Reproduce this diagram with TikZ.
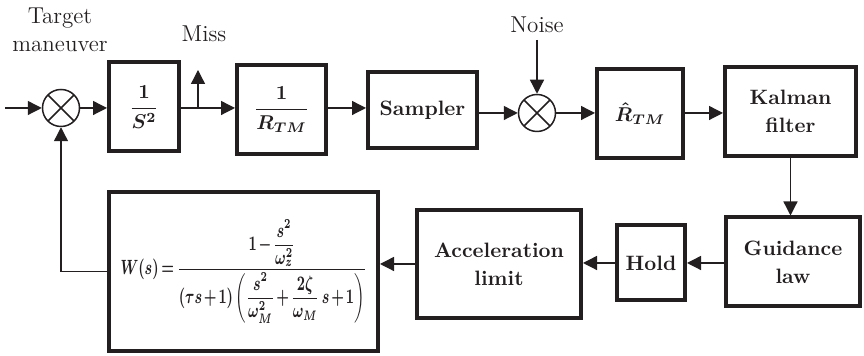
\documentclass[tikz,border=0pt]{standalone}
\usepackage{amsmath,amssymb}
\usepackage{tikz}
\usetikzlibrary{positioning,calc}
\usetikzlibrary{arrows.meta}
\definecolor{InkBlack}{RGB}{35,31,32}
\newcommand{\blkfont}{\fontsize{10.4}{14}\selectfont\bfseries\boldmath}
\newcommand{\lblfont}{\fontsize{11.5}{14}\selectfont}
\newcommand{\wfrac}{\resizebox*{123pt}{52pt}{\medmuskip=2mu\thickmuskip=3mu
  $W(s)=\dfrac{1-\dfrac{s^2}{\omega_z^2}}{(\tau s+1)\left(\dfrac{s^2}{\omega_M^2}+\dfrac{2\zeta}{\omega_M}\,s+1\right)}$}}
\tikzset{
  blk/.style={draw=InkBlack,line width=2pt,fill=white,inner sep=0pt,
    align=center,text=InkBlack,font=\blkfont},
  sumj/.style={circle,draw=InkBlack,line width=0.75pt,minimum size=18.5pt,inner sep=0pt,
    path picture={\draw[InkBlack,line width=0.75pt]
      (path picture bounding box.north west) -- (path picture bounding box.south east)
      (path picture bounding box.north east) -- (path picture bounding box.south west);}},
  sig/.style={draw=InkBlack,line width=0.65pt,-{Triangle[length=7pt,width=7pt]}},
  lbl/.style={text=InkBlack,font=\lblfont,align=center,inner sep=0pt},
}

\begin{document}
\begin{tikzpicture}[x=0.5pt,y=-0.5pt]
\useasboundingbox (0,0) rectangle (864,356);
\coordinate (in) at (5,108);
\coordinate (mb) at (198,108);
\coordinate (mt) at (198,70);
\coordinate (nz) at (537,40);
\node[sumj] (s1) at (61,108) {};
\node[blk,minimum width=35pt,minimum height=44.5pt] (b1) at (144,107) {$\dfrac{1}{S^2}$};
\node[blk,minimum width=44.5pt,minimum height=44.5pt] (b2) at (281.5,109.5) {$\dfrac{1}{R_{TM}}$};
\node[blk,minimum width=54.5pt,minimum height=38pt] (smp) at (422.5,110) {Sampler};
\node[sumj] (s2) at (537,113) {};
\node[blk,minimum width=43pt,minimum height=44.5pt] (rh) at (640,113.5) {$\hat{R}_{TM}$};
\node[blk,minimum width=65.5pt,minimum height=44.5pt] (kal) at (790.5,111.5) {Kalman\\filter};
\node[blk,minimum width=67pt,minimum height=44.5pt] (gl) at (793,262) {Guidance\\law};
\node[blk,minimum width=34pt,minimum height=37.5pt] (hold) at (651,263) {Hold};
\node[blk,minimum width=82pt,minimum height=54pt] (acc) at (499,264) {Acceleration\\limit};
\node[blk,minimum width=134.5pt,minimum height=79.5pt,font=\fontsize{9}{11}\selectfont\bfseries\boldmath] (wtf) at (243.5,271.5) {\wfrac};
\node[lbl] (tm) at (60,30) {Target\\maneuver};
\node[lbl,anchor=base] (miss) at (204,42) {Miss};
\node[lbl,anchor=base] (noise) at (537,33) {Noise};
\draw[sig] (in) -- (s1);
\draw[sig] (s1) -- (s1 -| b1.west);
\draw[sig] (b1.east |- s1) -- (b2.west |- s1);
\draw[sig] (mb) -- (mt);
\draw[sig] (b2.east |- s1) -- (smp.west |- s1);
\draw[sig] (smp.east |- s2) -- (s2);
\draw[sig] (nz) -- (s2);
\draw[sig] (s2) -- (s2 -| rh.west);
\draw[sig] (rh.east |- s2) -- (kal.west |- s2);
\draw[sig] (kal) -- (kal |- gl.north);
\draw[sig] (gl.west |- hold) -- (hold);
\draw[sig] (hold.west) -- (hold.west -| acc.east);
\draw[sig] (acc.west) -- (acc.west -| wtf.east);
\draw[sig] (wtf.west) -| (s1);
\end{tikzpicture}
\end{document}
